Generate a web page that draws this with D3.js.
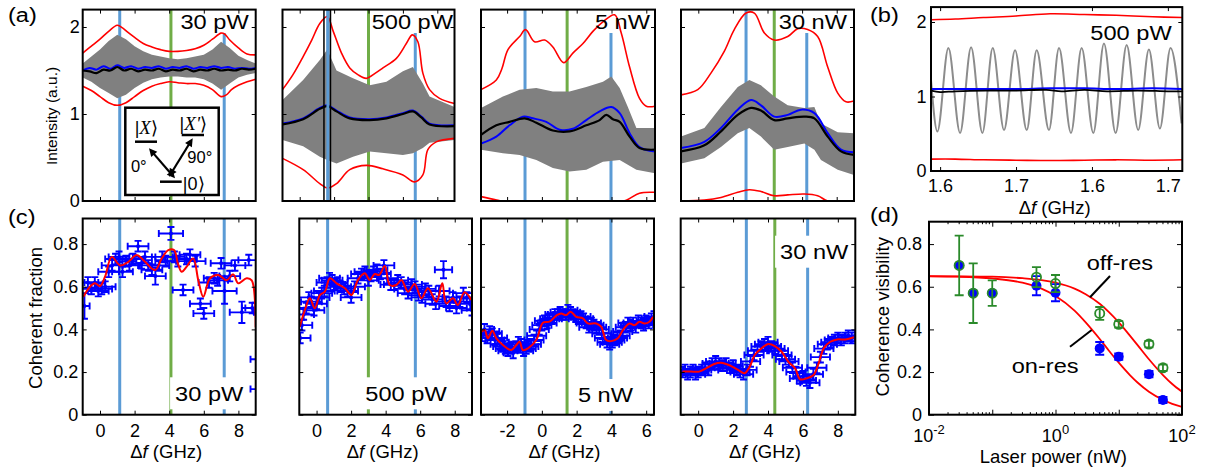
<!DOCTYPE html>
<html><head><meta charset="utf-8">
<script src="https://cdn.jsdelivr.net/npm/d3@7"></script>
<style>body{margin:0;background:#fff}svg{display:block}</style>
</head><body><svg id="c" width="1220" height="471"></svg>
<script>
// ================= DATA =================
// ---- (a) 30 pW ----
const a1RedUp=[[-1,1.70],[-0.5,1.78],[0,1.86],[0.5,1.95],[1.0,2.02],[1.3,1.99],[1.6,1.94],[2,1.88],[2.5,1.81],[3,1.77],[3.5,1.74],[4,1.72],[4.5,1.72],[5,1.73],[5.5,1.75],[6,1.79],[6.5,1.86],[7,1.93],[7.2,1.92],[7.5,1.85],[8,1.76],[8.5,1.69],[9,1.68]];
const a1RedLo=[[-1,1.32],[-0.5,1.27],[0,1.20],[0.5,1.13],[1.0,1.10],[1.5,1.13],[2,1.20],[2.5,1.27],[3,1.32],[3.5,1.35],[4,1.37],[4.5,1.36],[5,1.35],[5.5,1.35],[6,1.33],[6.5,1.28],[7,1.20],[7.3,1.22],[7.6,1.28],[8,1.33],[8.5,1.37],[9,1.40]];
const a1GrayUp=[[-1,1.58],[-0.5,1.66],[0,1.74],[0.5,1.84],[1.0,1.91],[1.5,1.86],[2,1.78],[2.5,1.72],[3,1.68],[3.5,1.66],[4,1.64],[4.5,1.63],[5,1.64],[5.5,1.66],[6,1.68],[6.5,1.74],[7,1.83],[7.5,1.76],[8,1.67],[8.5,1.62],[9,1.58]];
const a1GrayLo=[[-1,1.42],[-0.5,1.37],[0,1.30],[0.5,1.24],[1.0,1.18],[1.5,1.22],[2,1.30],[2.5,1.36],[3,1.40],[3.5,1.42],[4,1.43],[4.5,1.43],[5,1.42],[5.5,1.42],[6,1.40],[6.5,1.35],[7,1.28],[7.5,1.35],[8,1.42],[8.5,1.45],[9,1.47]];
const a1Blue=[[-1,1.50],[-0.6,1.53],[-0.2,1.51],[0.2,1.55],[0.6,1.52],[1.0,1.56],[1.4,1.53],[1.8,1.55],[2.2,1.52],[2.6,1.54],[3.0,1.53],[3.4,1.55],[3.8,1.52],[4.2,1.54],[4.6,1.53],[5.0,1.55],[5.4,1.52],[5.8,1.54],[6.2,1.53],[6.6,1.55],[7.0,1.53],[7.4,1.54],[7.8,1.52],[8.2,1.53],[8.6,1.52],[9,1.53]];
const a1Black=[[-1,1.50],[-0.6,1.49],[-0.2,1.47],[0.2,1.51],[0.6,1.50],[1.0,1.54],[1.4,1.50],[1.8,1.52],[2.2,1.49],[2.6,1.51],[3.0,1.50],[3.4,1.52],[3.8,1.49],[4.2,1.51],[4.6,1.50],[5.0,1.52],[5.4,1.49],[5.8,1.51],[6.2,1.50],[6.6,1.52],[7.0,1.50],[7.4,1.51],[7.8,1.50],[8.2,1.52],[8.6,1.51],[9,1.52]];
// ---- (a) 500 pW ----
const a2RedUp=[[-2,1.28],[-1.4,1.45],[-0.8,1.66],[-0.3,1.85],[0.17,2.04],[0.6,2.12],[0.95,1.95],[1.43,1.70],[1.91,1.53],[2.4,1.45],[2.88,1.41],[3.4,1.47],[3.84,1.53],[4.62,1.64],[5.2,1.81],[5.55,1.91],[5.87,1.83],[6.16,1.47],[6.55,1.28],[7.13,1.18],[8,1.12]];
const a2RedLo=[[-2,0.49],[-0.8,0.36],[0.17,0.20],[0.6,0.15],[1.14,0.20],[1.91,0.36],[2.88,0.41],[3.84,0.37],[5.0,0.30],[5.68,0.22],[6.16,0.30],[6.45,0.59],[6.94,0.68],[8,0.72]];
const a2GrayUp=[[-2,1.16],[-0.8,1.39],[0.17,1.62],[0.6,1.74],[1.14,1.50],[2.1,1.41],[3.07,1.33],[4.04,1.37],[5.0,1.49],[5.58,1.54],[6.16,1.35],[6.55,1.20],[8,1.08]];
const a2GrayLo=[[-2,0.70],[-0.8,0.63],[0.17,0.51],[0.6,0.47],[1.14,0.43],[2.1,0.51],[3.07,0.57],[4.04,0.55],[5.0,0.53],[5.58,0.55],[6.16,0.61],[6.55,0.67],[8,0.70]];
const a2Blue=[[-2,0.89],[-0.8,0.95],[0.17,1.07],[0.6,1.10],[1.14,1.04],[1.91,0.96],[3.07,0.94],[4.04,0.96],[5.0,1.01],[5.58,1.04],[6.07,0.97],[6.55,0.89],[8,0.87]];
const a2Black=[[-2,0.88],[-0.8,0.94],[0.17,1.06],[0.6,1.09],[1.14,1.03],[1.91,0.95],[3.07,0.93],[4.04,0.95],[5.0,1.00],[5.58,1.03],[6.07,0.96],[6.55,0.88],[8,0.86]];
// ---- (a) 5 nW ----
const a3RedUp=[[-3.5,1.28],[-2.62,1.39],[-2.3,1.52],[-1.95,1.74],[-1.28,1.89],[-0.94,1.97],[-0.42,1.83],[0.16,1.85],[0.63,1.77],[1.25,1.59],[1.78,1.70],[2.36,1.81],[2.93,1.95],[3.51,2.06],[4.18,2.14],[4.56,1.93],[5.04,1.54],[5.61,1.18],[6.0,1.09],[6.5,1.09]];
const a3RedLo=[[-3.5,0.05],[-2.6,0.01],[-1.5,-0.03],[0,-0.05],[2,-0.05],[4,-0.03],[4.85,0.01],[5.61,0.09],[6.5,0.10]];
const a3GrayUp=[[-3.5,1.07],[-2.24,1.20],[-1.28,1.28],[-0.32,1.30],[0.63,1.26],[1.59,1.26],[2.55,1.31],[3.51,1.37],[3.99,1.43],[4.47,1.30],[4.94,1.08],[5.43,0.84],[6.5,0.84]];
const a3GrayLo=[[-3.5,0.59],[-2.24,0.55],[-1.28,0.53],[-0.32,0.47],[0.63,0.38],[1.59,0.34],[2.55,0.36],[3.51,0.45],[4.47,0.47],[5.43,0.36],[6.5,0.32]];
const a3Blue=[[-3.5,0.66],[-2.62,0.74],[-1.86,0.87],[-1.09,0.97],[-0.52,0.95],[0.25,0.91],[1.02,0.82],[1.78,0.83],[2.55,0.93],[3.32,1.03],[3.99,1.08],[4.47,1.01],[5.04,0.78],[5.61,0.62],[6.5,0.57]];
const a3Black=[[-3.5,0.76],[-2.62,0.87],[-1.86,0.91],[-0.99,0.95],[-0.32,0.90],[0.63,0.81],[1.59,0.80],[2.55,0.87],[3.32,0.93],[3.70,0.99],[4.08,0.94],[4.47,0.91],[5.04,0.74],[5.61,0.61],[6.5,0.59]];
// ---- (a) 30 nW ----
const a4RedUp=[[-1,1.22],[-0.03,1.28],[0.73,1.47],[1.5,1.72],[2.08,1.97],[2.76,2.16],[3.24,2.16],[3.82,1.93],[4.39,1.85],[5.17,1.89],[5.75,1.98],[6.32,1.97],[6.9,1.89],[7.48,1.54],[8.06,1.24],[8.54,1.14],[9,1.15]];
const a4RedLo=[[-1,0.0],[0.35,0.01],[1.31,0.04],[2.28,0.10],[2.95,0.13],[3.62,0.11],[4.39,0.06],[5.17,0.07],[6.13,0.08],[6.9,0.06],[7.48,0.0],[9,-0.05]];
const a4GrayUp=[[-1,0.74],[0.35,0.84],[1.31,1.08],[2.28,1.31],[2.95,1.39],[3.62,1.33],[4.39,1.20],[5.17,1.10],[6.13,1.07],[6.71,1.08],[7.09,0.89],[8.06,0.79],[9,0.78]];
const a4GrayLo=[[-1,0.43],[0.35,0.49],[1.31,0.62],[2.28,0.78],[2.95,0.84],[3.62,0.74],[4.39,0.59],[5.17,0.62],[6.13,0.66],[6.71,0.59],[7.09,0.47],[8.06,0.36],[9,0.30]];
const a4Blue=[[-1,0.61],[0.35,0.68],[1.31,0.84],[2.28,1.05],[3.05,1.16],[3.62,1.10],[4.39,0.97],[5.17,0.99],[5.94,1.05],[6.71,1.01],[7.48,0.78],[8.25,0.59],[9,0.56]];
const a4Black=[[-1,0.57],[0.35,0.64],[1.31,0.80],[2.28,0.99],[3.05,1.07],[3.62,1.04],[4.39,0.93],[5.17,0.95],[6.13,0.97],[6.71,0.95],[7.48,0.74],[8.25,0.57],[9,0.53]];
// marker lines [blue, green, blue] per power, in GHz
const markers=[[1.14,4.1,7.18],[0.64,3.0,5.72],[-0.97,1.45,3.97],[2.76,4.39,6.27]];
const a2Window=[0.41,0.79];
const powerLabels=["30 pW","500 pW","5 nW","30 nW"];
const aXDomains=[[-1,9],[-2,8],[-3.5,6.5],[-1,9]];
const cXDomains=[[-1,9],[-1,9],[-3.5,6.45],[-1,9]];
const aXTicks=[[0,2,4,6,8],[-1,1,3,5,7],[-2,0,2,4,6],[0,2,4,6,8]];
const cXTicks=[[0,2,4,6,8],[0,2,4,6,8],[-2,0,2,4,6],[0,2,4,6,8]];
const aYTicks=[0,1,2];
const cYTicks=[0,0.2,0.4,0.6,0.8];
// ---- (b) ----
const bTickPos=[1.6,1.7,1.8,1.9];
const bTickLabels=["1.6","1.7","1.6","1.7"];
const bGray=[[1.588,1.22],[1.5964,0.53],[1.6109,1.65],[1.6263,0.51],[1.6408,1.66],[1.6557,0.51],[1.6693,1.65],[1.6842,0.55],[1.6987,1.62],[1.7141,0.55],[1.7272,1.62],[1.7434,0.55],[1.7566,1.65],[1.7724,0.51],[1.7864,1.65],[1.8018,0.51],[1.8158,1.71],[1.8312,0.51],[1.8457,1.69],[1.8609,0.55],[1.875,1.63],[1.8895,0.57],[1.9035,1.65],[1.918,0.64]];
const bRedUp=[[1.588,2.03],[1.62,2.04],[1.657,2.06],[1.70,2.08],[1.745,2.11],[1.79,2.10],[1.832,2.09],[1.88,2.07],[1.919,2.06]];
const bRedLo=[[1.588,0.16],[1.62,0.16],[1.657,0.15],[1.70,0.145],[1.745,0.14],[1.79,0.145],[1.832,0.15],[1.88,0.145],[1.919,0.15]];
const bBlue=[[1.588,1.10],[1.65,1.10],[1.70,1.10],[1.745,1.11],[1.79,1.11],[1.832,1.10],[1.88,1.11],[1.919,1.10]];
const bBlack=[[1.588,1.08],[1.60,1.06],[1.62,1.07],[1.66,1.08],[1.70,1.08],[1.74,1.09],[1.76,1.07],[1.79,1.09],[1.82,1.07],[1.86,1.08],[1.90,1.07],[1.919,1.07]];
// ---- (c) coherent fraction: [x, y, xerr?, yerr?] ----
const c1Pts=[[-0.9,0.51,0.3,0.06],[-0.7,0.62],[-0.5,0.59],[-0.3,0.62],[-0.1,0.58],[0.1,0.59],[0.3,0.60],[0.5,0.67],[0.7,0.70],[0.9,0.73],[1.1,0.74],[1.3,0.67],[1.5,0.72],[1.7,0.70],[1.9,0.73],[2.2,0.79],[2.4,0.71],[2.6,0.74],[2.8,0.70],[3.0,0.68],[3.2,0.65,0.6,0.04],[3.4,0.70],[3.6,0.74],[3.8,0.72],[4.1,0.85,0.7,0.03],[4.3,0.74],[4.5,0.72],[4.8,0.585],[5.0,0.73],[5.2,0.75],[5.5,0.72],[5.8,0.52],[6.0,0.475],[6.3,0.62],[6.6,0.64],[6.8,0.63],[7.0,0.71],[7.2,0.58,0.7,0.06],[7.5,0.65],[7.8,0.70],[8.2,0.48,0.7,0.05],[8.6,0.725],[8.8,0.50],[9.0,0.50],[9.6,0.26,0.9,0],[9.6,0.12,0.9,0]];
const c1Red=[[-0.96,0.553],[-0.58,0.60],[-0.29,0.616],[0.0,0.603],[0.29,0.647],[0.68,0.74],[1.16,0.70],[1.64,0.717],[2.12,0.749],[2.6,0.717],[3.18,0.678],[3.57,0.733],[3.95,0.772],[4.28,0.772],[4.5,0.71],[4.72,0.67],[5.01,0.694],[5.39,0.733],[5.68,0.631],[5.97,0.553],[6.36,0.64],[6.84,0.655],[7.32,0.631],[7.7,0.658],[7.99,0.616],[8.48,0.64],[8.77,0.63],[9.0,0.41]];
const c2Pts=[[-0.95,0.36],[-0.85,0.42],[-0.75,0.47],[-0.6,0.50],[-0.45,0.55],[-0.3,0.53],[-0.15,0.49],[0.0,0.52],[0.15,0.55],[0.3,0.57],[0.45,0.58],[0.6,0.62],[0.75,0.64],[0.9,0.63],[1.05,0.61],[1.2,0.62],[1.4,0.60],[1.6,0.59],[1.8,0.58],[2.0,0.55],[2.2,0.60],[2.4,0.64],[2.6,0.66],[2.8,0.67],[3.0,0.63],[3.15,0.65],[3.3,0.67],[3.5,0.68],[3.7,0.66],[3.9,0.70],[4.1,0.64],[4.3,0.61],[4.5,0.61],[4.7,0.63],[4.9,0.62],[5.1,0.59],[5.3,0.57],[5.5,0.61],[5.7,0.60],[5.9,0.56],[6.1,0.55],[6.3,0.59],[6.5,0.58],[6.7,0.54],[6.9,0.52],[7.1,0.58],[7.35,0.68,0.5,0.04],[7.5,0.53],[7.7,0.51],[7.9,0.55],[8.1,0.50],[8.3,0.53],[8.5,0.57],[8.7,0.55],[8.9,0.52],[9.0,0.49]];
const c2Red=[[-0.97,0.413],[-0.68,0.49],[-0.39,0.546],[-0.1,0.499],[0.19,0.561],[0.48,0.577],[0.77,0.64],[1.16,0.616],[1.64,0.593],[2.02,0.561],[2.4,0.632],[2.79,0.663],[3.08,0.632],[3.37,0.66],[3.62,0.655],[3.95,0.697],[4.24,0.608],[4.62,0.608],[4.91,0.632],[5.3,0.577],[5.68,0.613],[6.07,0.546],[6.45,0.593],[6.94,0.53],[7.28,0.616],[7.51,0.522],[7.9,0.546],[8.18,0.514],[8.57,0.574],[8.96,0.538]];
const c3Pts=[[-3.45,0.37],[-3.3,0.40],[-3.15,0.36],[-3.0,0.39],[-2.85,0.38],[-2.7,0.35],[-2.55,0.36],[-2.4,0.33],[-2.25,0.32],[-2.1,0.31],[-1.95,0.30],[-1.8,0.31],[-1.65,0.29],[-1.5,0.32],[-1.35,0.34],[-1.2,0.33],[-1.05,0.30],[-0.9,0.31],[-0.75,0.32],[-0.6,0.33],[-0.45,0.35],[-0.3,0.37],[-0.15,0.40],[0.0,0.42],[0.15,0.44],[0.3,0.43],[0.45,0.45],[0.6,0.45],[0.75,0.47],[0.9,0.47],[1.05,0.48],[1.2,0.47],[1.35,0.47],[1.5,0.49],[1.65,0.48],[1.8,0.47],[1.95,0.46],[2.1,0.45],[2.25,0.46],[2.4,0.45],[2.55,0.43],[2.7,0.41],[2.85,0.43],[3.0,0.42],[3.15,0.41],[3.3,0.40],[3.45,0.38],[3.6,0.36],[3.75,0.34],[3.9,0.33],[4.05,0.34],[4.2,0.35],[4.35,0.36],[4.5,0.37],[4.65,0.39],[4.8,0.41],[4.95,0.43],[5.1,0.42],[5.25,0.43],[5.4,0.41],[5.55,0.44],[5.7,0.43],[5.85,0.42],[6.0,0.44],[6.15,0.43],[6.3,0.45],[6.45,0.46]];
const c3Red=[[-3.48,0.389],[-3.29,0.397],[-3.1,0.358],[-2.85,0.394],[-2.62,0.358],[-2.24,0.327],[-1.76,0.303],[-1.47,0.327],[-1.28,0.342],[-1.09,0.303],[-0.8,0.311],[-0.32,0.350],[0.06,0.431],[0.44,0.436],[0.86,0.467],[1.11,0.475],[1.4,0.467],[1.65,0.483],[1.98,0.459],[2.36,0.452],[2.64,0.428],[3.13,0.428],[3.41,0.413],[3.7,0.350],[3.99,0.345],[4.37,0.358],[4.66,0.397],[5.04,0.428],[5.33,0.42],[5.61,0.436],[5.9,0.428],[6.19,0.436],[6.4,0.459]];
const c4Pts=[[-0.9,0.20],[-0.75,0.21],[-0.6,0.19],[-0.45,0.20],[-0.3,0.21],[-0.15,0.19],[0.0,0.20],[0.2,0.21],[0.4,0.22],[0.6,0.21],[0.8,0.24],[1.0,0.25],[1.2,0.24],[1.4,0.23],[1.6,0.24],[1.8,0.22],[2.0,0.23],[2.2,0.21],[2.4,0.20],[2.6,0.19],[2.8,0.21],[3.0,0.25],[3.2,0.28],[3.4,0.30],[3.6,0.32],[3.8,0.33],[4.0,0.34],[4.2,0.32],[4.4,0.31],[4.6,0.30],[4.8,0.28],[5.0,0.26],[5.2,0.25],[5.4,0.22],[5.6,0.20],[5.8,0.17],[6.0,0.18],[6.2,0.16],[6.4,0.15],[6.6,0.19],[6.8,0.22],[7.0,0.27],[7.2,0.31],[7.4,0.33],[7.6,0.34],[7.8,0.35],[8.0,0.36],[8.2,0.35],[8.4,0.36],[8.6,0.37],[8.8,0.36],[9.0,0.37]];
const c4Red=[[-0.9,0.202],[-0.42,0.202],[0.06,0.202],[0.45,0.217],[0.92,0.238],[1.31,0.244],[1.79,0.232],[2.28,0.21],[2.66,0.194],[2.95,0.225],[3.24,0.28],[3.62,0.311],[4.01,0.331],[4.39,0.322],[4.78,0.295],[5.17,0.248],[5.55,0.217],[5.84,0.166],[6.23,0.171],[6.61,0.186],[6.9,0.241],[7.19,0.311],[7.57,0.342],[7.96,0.353],[8.44,0.353],[8.92,0.363]];
const cXErr=[0.6,0.6,0.55,0.55];
const cYErr=0.025;
// ---- (d) coherence visibility ----
const dPower=[0.03,0.05,0.1,0.5,1,5,10,30,50];
const dOffRes=[0.70,0.57,0.57,0.645,0.615,0.475,0.424,0.331,0.22];
const dOffErr=[0.14,0.14,0.06,0.047,0.04,0.03,0.015,0.015,0.015];
const dOnRes=[0.70,0.57,0.57,0.605,0.572,0.311,0.272,0.19,0.069];
const dOnErr=[0,0,0,0.045,0.04,0.03,0.015,0.015,0.015];
const dOnFit=[[0.01,0.649],[0.03,0.647],[0.1,0.639],[0.3,0.619],[0.6,0.591],[1,0.557],[2,0.488],[3,0.433],[5,0.355],[7,0.30],[10,0.244],[15,0.186],[20,0.15],[30,0.108],[50,0.070],[70,0.051],[100,0.037]];
const dOffFit=[[0.01,0.650],[0.1,0.647],[0.3,0.640],[0.6,0.631],[1,0.619],[2,0.591],[3,0.565],[5,0.52],[7,0.481],[10,0.433],[15,0.371],[20,0.325],[30,0.26],[50,0.186],[70,0.144],[100,0.108]];
const dMajor=[0.01,0.1,1,10,100];
const dLabelVals=[0.01,1,100];
const dLabelExp=["-2","0","2"];
const dYTicks=[0,0.2,0.4,0.6,0.8];

// ================= LAYOUT / STYLE =================
const FONT='"Liberation Sans", Arial, Helvetica, sans-serif';
const C={lblue:'#5b9bd5',lgreen:'#70ad47',red:'#ff0000',blue:'#0000ff',gray:'#808080',dgreen:'#2a8a2a'};
const LAY={
  aY:[201,9.6], aX:[[82.7,255.7],[282.5,454.5],[481,655],[681,854]],
  aLabelDx:[-7,-1.5,-5,-7],
  bX:[931,1182.3], bY:[171,7.1],
  cY:[414.7,218.5], cX:[[82.7,255.7],[299.3,472],[481,654],[680.7,855.3]],
  cLabelDx:[-12.4,-25.3,-21,-7], cLabelCy:[393.3,393.3,395,251.7],
  dX:[929,1182], dY:[414.7,221.7]
};
const STRETCH=1.18;
const svg=d3.select('#c').attr('font-family',FONT);
const defs=svg.append('defs');
let clipN=0;
function clip(x0,y0,x1,y1){const id='cl'+(clipN++);defs.append('clipPath').attr('id',id).append('rect').attr('x',x0).attr('y',y0).attr('width',x1-x0).attr('height',y1-y0);return `url(#${id})`;}
const lineGen=(xs,ys,curve)=>d3.line().x(d=>xs(d[0])).y(d=>ys(d[1])).curve(curve||d3.curveLinear);

function styleAxis(sel,fs){sel.select('.domain').remove();sel.selectAll('line').attr('stroke','#000').attr('stroke-width',1);sel.attr('font-family',FONT).attr('font-size',fs||18);sel.selectAll('text').attr('fill','#000');}
function box(g,xs,ys,o){
  const [xa,xb]=xs.range(),[ya,yb]=ys.range();const tl=o.tl||4;const none=()=> '';
  g.append('g').attr('transform',`translate(0,${ya})`).call(d3.axisBottom(xs).tickValues(o.xt).tickSizeInner(-tl).tickSizeOuter(0).tickPadding(o.xpad==null?9.5:o.xpad).tickFormat(o.xfmt||none)).call(s=>styleAxis(s));
  g.append('g').attr('transform',`translate(0,${yb})`).call(d3.axisTop(xs).tickValues(o.xt).tickSizeInner(-tl).tickSizeOuter(0).tickFormat(none)).call(s=>styleAxis(s));
  g.append('g').attr('transform',`translate(${xa},0)`).call(d3.axisLeft(ys).tickValues(o.yt).tickSizeInner(-tl).tickSizeOuter(0).tickPadding(o.ypad==null?4.5:o.ypad).tickFormat(o.yfmt||none)).call(s=>styleAxis(s));
  g.append('g').attr('transform',`translate(${xb},0)`).call(d3.axisRight(ys).tickValues(o.yt).tickSizeInner(-tl).tickSizeOuter(0).tickFormat(none)).call(s=>styleAxis(s));
  g.append('rect').attr('x',xa).attr('y',yb).attr('width',xb-xa).attr('height',ya-yb).attr('fill','none').attr('stroke','#000').attr('stroke-width',2);
}
function stretchText(g,x,y,txt,anchor,fs,bg){
  const t=g.append('text').attr('x',x).attr('y',y).attr('text-anchor',anchor).attr('font-size',fs).attr('fill','#000').text(txt);
  const w=t.node().getComputedTextLength()*STRETCH;
  t.attr('textLength',w).attr('lengthAdjust','spacingAndGlyphs');
  if(bg){const left=anchor==='end'?x-w:(anchor==='middle'?x-w/2:x);const cy=y-fs*0.36;
    g.insert('rect',()=>t.node()).attr('x',left-5).attr('y',cy-16).attr('width',w+10).attr('height',32).attr('fill','#fff');}
  return t;
}
function dfLabel(g,x,y,fs){const t=g.append('text').attr('x',x).attr('y',y).attr('text-anchor','middle').attr('font-size',fs||18.5).attr('fill','#000');
  t.append('tspan').text('Δ');t.append('tspan').attr('font-style','italic').text('f');t.append('tspan').text(' (GHz)');}
function vline(g,xs,ys,x,col,v0,v1){g.append('line').attr('x1',xs(x)).attr('x2',xs(x)).attr('y1',ys(v0)).attr('y2',ys(v1)).attr('stroke',col).attr('stroke-width',3);}

// ================= PANELS (a) =================
const aSets=[[a1RedUp,a1RedLo,a1GrayUp,a1GrayLo,a1Blue,a1Black],[a2RedUp,a2RedLo,a2GrayUp,a2GrayLo,a2Blue,a2Black],[a3RedUp,a3RedLo,a3GrayUp,a3GrayLo,a3Blue,a3Black],[a4RedUp,a4RedLo,a4GrayUp,a4GrayLo,a4Blue,a4Black]];
aSets.forEach((S,i)=>{
  const [ru,rl,gu,gl,bl,bk]=S;
  const xs=d3.scaleLinear().domain(aXDomains[i]).range(LAY.aX[i]);
  const ys=d3.scaleLinear().domain([0,2.2]).range(LAY.aY);
  const g=svg.append('g');
  const pg=g.append('g').attr('clip-path',clip(LAY.aX[i][0],LAY.aY[1],LAY.aX[i][1],LAY.aY[0]));
  const m=markers[i];
  vline(pg,xs,ys,m[0],C.lblue,0,2.2);vline(pg,xs,ys,m[1],C.lgreen,0,2.2);vline(pg,xs,ys,m[2],C.lblue,0,1.93);
  const L=lineGen(xs,ys,d3.curveCatmullRom.alpha(0.5));
  pg.append('path').attr('d',lineGen(xs,ys)(gu.concat(gl.slice().reverse()))+'Z').attr('fill',C.gray);
  pg.append('path').attr('d',L(ru)).attr('fill','none').attr('stroke',C.red).attr('stroke-width',1.6);
  pg.append('path').attr('d',L(rl)).attr('fill','none').attr('stroke',C.red).attr('stroke-width',1.6);
  pg.append('path').attr('d',L(bl)).attr('fill','none').attr('stroke',C.blue).attr('stroke-width',2);
  pg.append('path').attr('d',L(bk)).attr('fill','none').attr('stroke','#000').attr('stroke-width',2.2);
  if(i===1){
    vline(pg,xs,ys,m[0],C.lblue,0,2.2);
    pg.append('rect').attr('x',xs(a2Window[0])).attr('y',ys(2.2)).attr('width',xs(a2Window[1])-xs(a2Window[0])).attr('height',ys(0)-ys(2.2)).attr('fill','none').attr('stroke','#000').attr('stroke-width',1.5);
  }
  stretchText(g,LAY.aX[i][1]+LAY.aLabelDx[i],29,powerLabels[i],'end',20,false);
  box(g,xs,ys,{xt:aXTicks[i],yt:aYTicks,yfmt:i===0?(d=>String(d)):null,ypad:3});
  if(i===0){
    // inset level diagram
    const ox=125.3,oy=107.7;
    const ig=g.append('g').attr('transform',`translate(${ox},${oy})`);
    ig.append('rect').attr('x',0).attr('y',0).attr('width',93.4).attr('height',87.3).attr('fill','#fff').attr('stroke','#000').attr('stroke-width',2.5);
    const bar=(x1,x2,y)=>ig.append('line').attr('x1',x1).attr('x2',x2).attr('y1',y).attr('y2',y).attr('stroke','#000').attr('stroke-width',2.5);
    bar(9.7,31.7,34);bar(56.4,78.7,27.3);bar(34.7,56.4,74);
    const ket=(x,y,anchor,parts)=>{const t=ig.append('text').attr('x',x).attr('y',y).attr('text-anchor',anchor).attr('font-size',18).attr('fill','#000');
      parts.forEach(p=>{const s=t.append('tspan').text(p[0]);if(p[1])s.attr('font-family','"Liberation Serif", "DejaVu Serif", serif').attr('font-style','italic').attr('font-size',19);});};
    ket(21,26.5,'middle',[['|'],['X',1],['⟩']]);
    ket(68,22.5,'middle',[['|'],["X'",1],['⟩']]);
    ket(57.5,82.5,'start',[['|'],['0'],['⟩']]);
    ig.append('text').attr('x',13.5).attr('y',64).attr('text-anchor','middle').attr('font-size',16.5).attr('fill','#000').text('0°');
    ig.append('text').attr('x',74.5).attr('y',55.6).attr('text-anchor','middle').attr('font-size',16.5).attr('fill','#000').text('90°');
    const arrow=(x1,y1,x2,y2)=>{const dx=x2-x1,dy=y2-y1,len=Math.hypot(dx,dy),ux=dx/len,uy=dy/len,hl=8,hw=4;
      ig.append('line').attr('x1',x1+ux*hl*0.8).attr('y1',y1+uy*hl*0.8).attr('x2',x2-ux*hl*0.8).attr('y2',y2-uy*hl*0.8).attr('stroke','#000').attr('stroke-width',2.2);
      const head=(px,py,sx,sy)=>ig.append('path').attr('d',`M${px},${py}L${px-sx*hl-sy*hw},${py-sy*hl+sx*hw}L${px-sx*hl+sy*hw},${py-sy*hl-sx*hw}Z`).attr('fill','#000');
      head(x2,y2,ux,uy);head(x1,y1,-ux,-uy);};
    arrow(23.7,40.6,49.7,70.6);arrow(43.7,69,67.4,30.6);
  }
});
svg.append('text').attr('transform','translate(56.5,116) rotate(-90)').attr('text-anchor','middle').attr('font-size',15.5).attr('fill','#000').text('Intensity (a.u.)');

// ================= PANEL (b) =================
(function(){
  const xs=d3.scaleLinear().domain([1.588,1.919]).range(LAY.bX);
  const ys=d3.scaleLinear().domain([0,2.2]).range(LAY.bY);
  const g=svg.append('g');
  const pg=g.append('g').attr('clip-path',clip(LAY.bX[0],LAY.bY[1],LAY.bX[1],LAY.bY[0]));
  pg.append('path').attr('d',lineGen(xs,ys,d3.curveMonotoneX)(bGray)).attr('fill','none').attr('stroke','#8c8c8c').attr('stroke-width',2);
  const L=lineGen(xs,ys,d3.curveCatmullRom);
  pg.append('path').attr('d',L(bRedUp)).attr('fill','none').attr('stroke',C.red).attr('stroke-width',1.6);
  pg.append('path').attr('d',L(bRedLo)).attr('fill','none').attr('stroke',C.red).attr('stroke-width',1.6);
  pg.append('path').attr('d',L(bBlue)).attr('fill','none').attr('stroke',C.blue).attr('stroke-width',2);
  pg.append('path').attr('d',L(bBlack)).attr('fill','none').attr('stroke','#000').attr('stroke-width',1.8);
  stretchText(g,LAY.bX[1]-10.6,40,'500 pW','end',20,false);
  box(g,xs,ys,{xt:bTickPos,yt:aYTicks,xfmt:(d,i)=>bTickLabels[i],yfmt:d=>String(d),xpad:7.9,ypad:4.5});
  dfLabel(g,(LAY.bX[0]+LAY.bX[1])/2-2,214);
})();

// ================= PANELS (c) =================
const cSets=[[c1Pts,c1Red],[c2Pts,c2Red],[c3Pts,c3Red],[c4Pts,c4Red]];
cSets.forEach((S,i)=>{
  const [pts,red]=S;
  const xs=d3.scaleLinear().domain(cXDomains[i]).range(LAY.cX[i]);
  const ys=d3.scaleLinear().domain([0,0.92]).range(LAY.cY);
  const g=svg.append('g');
  const pg=g.append('g').attr('clip-path',clip(LAY.cX[i][0],LAY.cY[1],LAY.cX[i][1],LAY.cY[0]));
  const m=markers[i];
  vline(pg,xs,ys,m[0],C.lblue,0,0.92);vline(pg,xs,ys,m[1],C.lgreen,0,0.92);vline(pg,xs,ys,m[2],C.lblue,0,0.92);
  const XE=d=>d[2]!=null?d[2]:cXErr[i], YE=d=>d[3]!=null?d[3]:cYErr;
  const pgs=pg.append('g').attr('stroke',C.blue).attr('stroke-width',1.9).selectAll('g').data(pts).join('g');
  pgs.append('line').attr('x1',d=>xs(d[0]-XE(d))).attr('x2',d=>xs(d[0]+XE(d))).attr('y1',d=>ys(d[1])).attr('y2',d=>ys(d[1]));
  pgs.append('line').attr('x1',d=>xs(d[0]-XE(d))).attr('x2',d=>xs(d[0]-XE(d))).attr('y1',d=>ys(d[1])-3.5).attr('y2',d=>ys(d[1])+3.5);
  pgs.append('line').attr('x1',d=>xs(d[0]+XE(d))).attr('x2',d=>xs(d[0]+XE(d))).attr('y1',d=>ys(d[1])-3.5).attr('y2',d=>ys(d[1])+3.5);
  pgs.append('line').attr('x1',d=>xs(d[0])).attr('x2',d=>xs(d[0])).attr('y1',d=>ys(d[1]-YE(d))).attr('y2',d=>ys(d[1]+YE(d)));
  pgs.append('line').attr('x1',d=>xs(d[0])-3.5).attr('x2',d=>xs(d[0])+3.5).attr('y1',d=>ys(d[1]-YE(d))).attr('y2',d=>ys(d[1]-YE(d)));
  pgs.append('line').attr('x1',d=>xs(d[0])-3.5).attr('x2',d=>xs(d[0])+3.5).attr('y1',d=>ys(d[1]+YE(d))).attr('y2',d=>ys(d[1]+YE(d)));
  pgs.append('circle').attr('cx',d=>xs(d[0])).attr('cy',d=>ys(d[1])).attr('r',2).attr('fill',C.blue).attr('stroke','none');
  pg.append('path').attr('d',lineGen(xs,ys,d3.curveCatmullRom.alpha(0.5))(red)).attr('fill','none').attr('stroke',C.red).attr('stroke-width',2);
  stretchText(g,LAY.cX[i][1]+LAY.cLabelDx[i],LAY.cLabelCy[i]+7.2,powerLabels[i],'end',20,true);
  box(g,xs,ys,{xt:cXTicks[i],yt:cYTicks,xfmt:d=>String(d),yfmt:i===0?(d=>d===0?'0':d3.format('.1f')(d)):null});
  dfLabel(g,(LAY.cX[i][0]+LAY.cX[i][1])/2-3,458);
});
svg.append('text').attr('transform','translate(41.5,318) rotate(-90)').attr('text-anchor','middle').attr('font-size',18.5).attr('fill','#000').text('Coherent fraction');

// ================= PANEL (d) =================
(function(){
  const xs=d3.scaleLog().domain([0.01,100]).range(LAY.dX);
  const ys=d3.scaleLinear().domain([0,0.905]).range(LAY.dY);
  const g=svg.append('g');
  const pg=g.append('g').attr('clip-path',clip(LAY.dX[0],LAY.dY[1],LAY.dX[1],LAY.dY[0]));
  const L=lineGen(xs,ys,d3.curveMonotoneX);
  pg.append('path').attr('d',L(dOffFit)).attr('fill','none').attr('stroke',C.red).attr('stroke-width',1.8);
  pg.append('path').attr('d',L(dOnFit)).attr('fill','none').attr('stroke',C.red).attr('stroke-width',1.8);
  const idx=d3.range(dPower.length);
  const eb=(sel,vals,errs,col)=>{
    const e=sel.append('g').attr('stroke',col).attr('stroke-width',1.8).selectAll('g').data(idx.filter(k=>errs[k]>0)).join('g');
    e.append('line').attr('x1',k=>xs(dPower[k])).attr('x2',k=>xs(dPower[k])).attr('y1',k=>ys(vals[k]-errs[k])).attr('y2',k=>ys(vals[k]+errs[k]));
    e.append('line').attr('x1',k=>xs(dPower[k])-4.5).attr('x2',k=>xs(dPower[k])+4.5).attr('y1',k=>ys(vals[k]-errs[k])).attr('y2',k=>ys(vals[k]-errs[k]));
    e.append('line').attr('x1',k=>xs(dPower[k])-4.5).attr('x2',k=>xs(dPower[k])+4.5).attr('y1',k=>ys(vals[k]+errs[k])).attr('y2',k=>ys(vals[k]+errs[k]));
  };
  eb(pg,dOnRes,dOnErr,C.blue);
  pg.append('g').selectAll('circle').data(idx).join('circle').attr('cx',k=>xs(dPower[k])).attr('cy',k=>ys(dOnRes[k])).attr('r',5).attr('fill',C.blue);
  eb(pg,dOffRes,dOffErr,C.dgreen);
  pg.append('g').selectAll('circle').data(idx).join('circle').attr('cx',k=>xs(dPower[k])).attr('cy',k=>ys(dOffRes[k])).attr('r',4.6).attr('fill','none').attr('stroke',C.dgreen).attr('stroke-width',1.8);
  // annotations
  stretchText(g,1086.7,270,'off-res','start',20,false);
  stretchText(g,1011.7,372.5,'on-res','start',20,false);
  g.append('line').attr('x1',1110).attr('y1',276).attr('x2',1090).attr('y2',297.3).attr('stroke','#000').attr('stroke-width',2);
  g.append('line').attr('x1',1070).attr('y1',346.7).attr('x2',1091.7).attr('y2',330).attr('stroke','#000').attr('stroke-width',2);
  // minor log ticks
  const minor=[];dMajor.slice(0,-1).forEach(b=>{for(let k=2;k<=9;k++)minor.push(b*k);});
  const [ya,yb]=ys.range();
  g.append('g').selectAll('line').data(minor).join('line').attr('x1',d=>xs(d)).attr('x2',d=>xs(d)).attr('y1',ya).attr('y2',ya-2.5).attr('stroke','#000');
  g.append('g').selectAll('line').data(minor).join('line').attr('x1',d=>xs(d)).attr('x2',d=>xs(d)).attr('y1',yb).attr('y2',yb+2.5).attr('stroke','#000');
  box(g,xs,ys,{xt:dMajor,yt:dYTicks,yfmt:d=>d===0?'0':d3.format('.1f')(d),ypad:7,tl:5});
  const lt=g.append('g').selectAll('text').data(dLabelVals).join('text').attr('x',d=>xs(d)).attr('y',441.7).attr('text-anchor','middle').attr('font-size',18).attr('fill','#000');
  lt.append('tspan').text('10');
  lt.append('tspan').attr('dy',-8).attr('font-size',13).text((d,i)=>dLabelExp[i]);
  g.append('text').attr('x',1053.3).attr('y',463).attr('text-anchor','middle').attr('font-size',18.5).attr('fill','#000').text('Laser power (nW)');
  g.append('text').attr('transform','translate(888.5,316.7) rotate(-90)').attr('text-anchor','middle').attr('font-size',18.5).attr('fill','#000').text('Coherence visibility');
})();

// panel letters
[['(a)',8,22],['(b)',870,22],['(c)',8,224],['(d)',870,222]].forEach(p=>stretchText(svg,p[1],p[2],p[0],'start',20,false));
</script></body></html>
